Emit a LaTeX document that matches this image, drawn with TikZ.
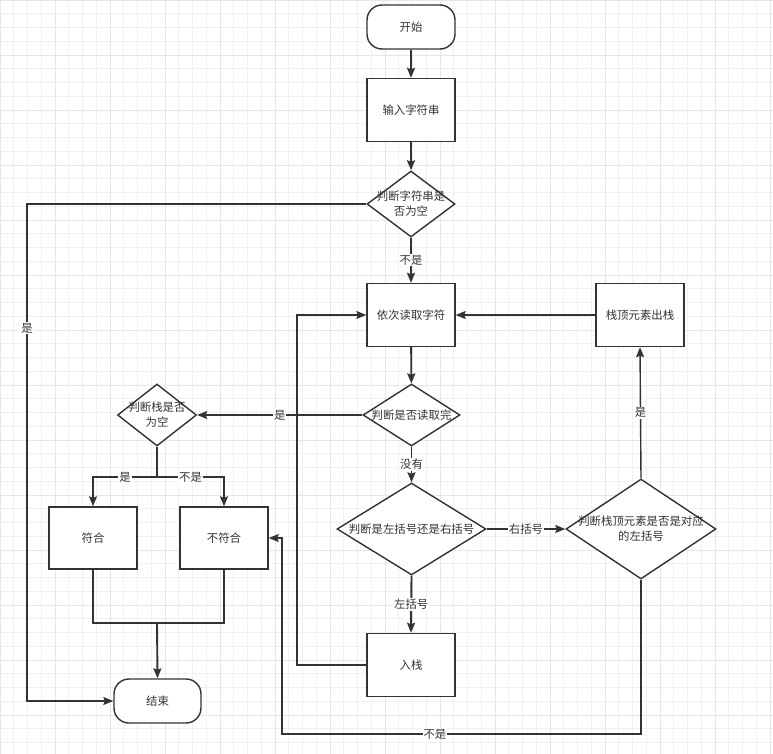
\documentclass[tikz,border=0pt]{standalone}
\usepackage{fontspec}
\newfontfamily\cjk{Noto Sans CJK SC}
\usetikzlibrary{shapes.geometric,arrows.meta}
\definecolor{ink}{HTML}{333333}
\definecolor{gridminor}{HTML}{F1F1F1}
\definecolor{gridmajor}{HTML}{E6E6E6}
\begin{document}
\begin{tikzpicture}[x=1pt,y=-1pt,
  tfont/.style={font=\cjk\fontsize{11.4}{15}\selectfont,text=ink},
  box/.style={draw=ink,line width=1.4pt,fill=white,minimum width=88pt,minimum height=63pt,inner sep=0pt,tfont},
  term/.style={box,rounded corners=15pt,minimum height=44pt},
  dia/.style={draw=ink,line width=1.4pt,fill=white,shape=diamond,inner sep=0pt},
  txt/.style={tfont,align=center,inner sep=0pt},
  conn/.style={draw=ink,line width=1.4pt},
  thick conn/.style={draw=ink,line width=1.9pt},
  arr/.style={conn,-{Stealth[length=10pt,width=8pt,inset=1.5pt]}},
  thick arr/.style={thick conn,-{Stealth[length=10pt,width=8pt,inset=1.5pt]}},
  lbl/.style={fill=white,inner sep=1pt,tfont}
]
\useasboundingbox (0,0) rectangle (773,754);
\fill[white] (0,0) rectangle (773,754);
\foreach \i in {0,...,56} \draw[gridminor,line width=0.8pt] (\i*13.75,0) -- (\i*13.75,754);
\foreach \i in {0,...,54} \draw[gridminor,line width=0.8pt] (0,\i*13.75) -- (773,\i*13.75);
\foreach \i in {0,...,14} \draw[gridmajor,line width=0.8pt] (\i*55,0) -- (\i*55,754);
\foreach \i in {0,...,13} \draw[gridmajor,line width=0.8pt] (0,\i*55) -- (773,\i*55);

% nodes
\node[term] (start) at (411,27) {开始};
\node[box] (input) at (411,110) {输入字符串};
\node[dia,minimum width=88pt,minimum height=66pt,label={[txt]center:判断字符串是\\否为空}] (dec1) at (411,204) {};
\node[box] (read) at (411,315) {依次读取字符};
\node[box] (pop) at (640,315) {栈顶元素出栈};
\node[dia,minimum width=97pt,minimum height=62pt,label={[txt]center:判断是否读取完}] (dec2) at (411.5,415) {};
\node[dia,minimum width=149pt,minimum height=92pt,label={[txt]center:判断是左括号还是右括号}] (dec3) at (411.5,529) {};
\node[dia,minimum width=150pt,minimum height=100pt,label={[txt]center:判断栈顶元素是否是对应\\的左括号}] (dec5) at (641,529) {};
\node[box] (push) at (411,665) {入栈};
\node[dia,minimum width=79pt,minimum height=62pt,label={[txt]center:判断栈是否\\为空}] (dec4) at (157,415) {};
\node[box,minimum height=62pt] (ok) at (93,538) {符合};
\node[box,minimum height=62pt] (fail) at (224,538) {不符合};
\node[term,minimum width=87pt] (end) at (157.5,701) {结束};

% helper coordinates
\coordinate (c1) at (27,204);
\coordinate (c2) at (27,701);
\coordinate (j1) at (157,477);
\coordinate (j1l) at (93,477);
\coordinate (j1r) at (224,477);
\coordinate (j2) at (157,623);
\coordinate (j2l) at (93,623);
\coordinate (j2r) at (224,623);
\coordinate (p1) at (297,665);
\coordinate (p2) at (297,315);
\coordinate (q1) at (641,734);
\coordinate (q2) at (282,734);
\coordinate (q3) at (282,538);

% connectors
\draw[thick arr] (start) -- (input);
\draw[thick arr] (input) -- (dec1);
\draw[thick arr] (dec1.south) -- node[lbl]{不是} (read.north);
\draw[arr] (dec1.west) -- (c1) -- node[lbl,pos=0.25]{是} (c2) -- (end.west);
\draw[thick arr] (read) -- (dec2);
\draw[thick arr] (dec2.south) -- node[lbl]{没有} (dec3.north);
\draw[arr] (dec2.west) -- node[lbl]{是} (dec4.east);
\draw[arr] (dec3.east) -- node[lbl]{右括号} (dec5.west);
\draw[thick arr] (dec3.south) -- node[lbl]{左括号} (push.north);
\draw[arr] (push.west) -- (p1) -- (p2) -- (read.west);
\draw[arr] (dec5.north) -- node[lbl]{是} (pop.south);
\draw[arr] (pop.west) -- (read.east);
\draw[arr] (dec5.south) -- (q1) -- node[lbl,pos=0.574]{不是} (q2) -- (q3) -- (fail.east);
\draw[thick conn] (dec4.south) -- (j1);
\draw[arr] (j1) -- node[lbl]{是} (j1l) -- (ok.north);
\draw[arr] (j1) -- node[lbl]{不是} (j1r) -- (fail.north);
\draw[conn] (ok.south) -- (j2l) -- (j2r) -- (fail.south);
\draw[thick arr] (j2) -- (end.north);
\end{tikzpicture}
\end{document}
